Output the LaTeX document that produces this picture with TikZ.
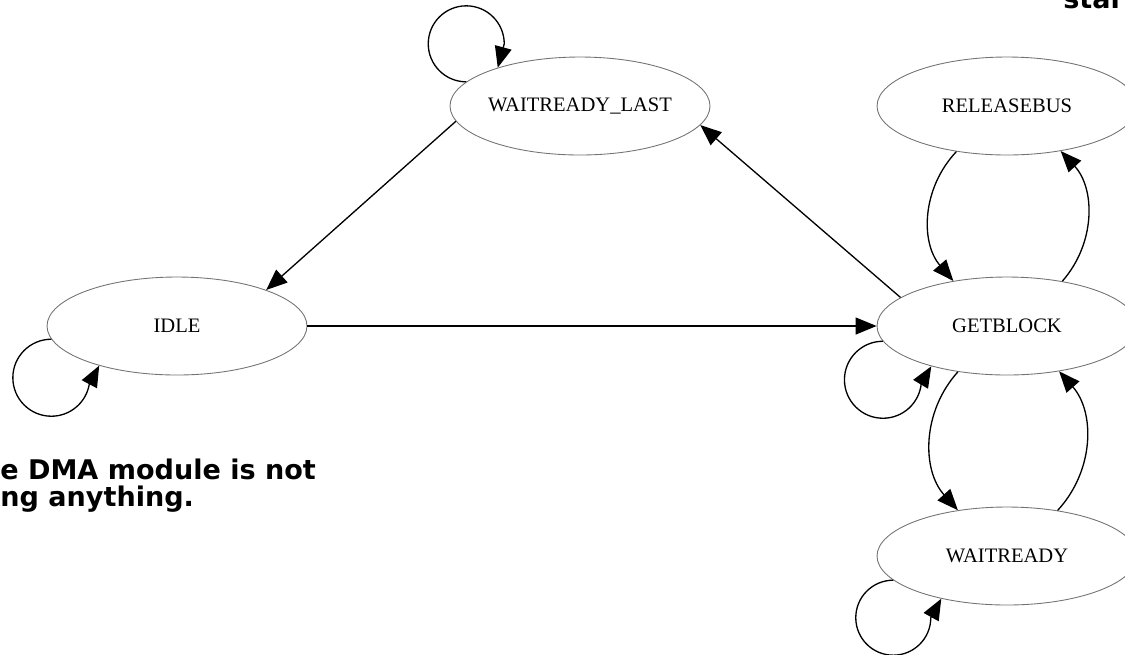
\documentclass[tikz,border=0pt]{standalone}
\usepackage{fontspec}
\usetikzlibrary{shapes.geometric,arrows.meta}
\newfontfamily\statefont{Liberation Serif}
\newfontfamily\notefont{DejaVu Sans}
\begin{document}
\begin{tikzpicture}[x=0.02cm,y=-0.02cm,
  state/.style={ellipse, draw=black!55, line width=0.5pt, inner sep=0pt,
    minimum width=5.2cm, minimum height=1.96cm,
    font=\statefont\fontsize{11.7}{14}\selectfont},
  arr/.style={-{Triangle[length=0.42cm,width=0.34cm]}, line width=0.75pt, black},
  note/.style={font=\notefont\bfseries\fontsize{15.4}{18}\selectfont, inner sep=0pt, anchor=base west}]
\useasboundingbox (0,0) rectangle (1125,654);

\node[state] (wl) at (580,106) {WAITREADY\_LAST};
\node[state] (idle) at (177,326) {IDLE};
\node[state] (rb) at (1007,106) {RELEASEBUS};
\node[state] (gb) at (1007,326) {GETBLOCK};
\node[state] (wr) at (1007,556) {WAITREADY};

% straight edges
\draw[arr] (wl.187) -- (idle.22);
\draw[arr] (idle.east) -- (gb.west);
\draw[arr] (gb.165) -- (wl.-9);

% curved pairs
\draw[arr] (rb.222) to[bend right=42] (gb.140);
\draw[arr] (gb.39) to[bend right=42] (rb.-40);
\draw[arr] (gb.223) to[bend right=42] (wr.137);
\draw[arr] (wr.42) to[bend right=42] (gb.-41);

% self loops
\draw[arr] (wl.168.5) arc[start angle=90, end angle=360, radius=38] -- (wl.155.4);
\draw[arr] (idle.186) arc[start angle=270, end angle=10, radius=38.5] -- (idle.207.5);
\draw[arr] (gb.187) arc[start angle=270, end angle=5, radius=38.5] -- (gb.208);
\draw[arr] (wr.192) arc[start angle=270, end angle=0, radius=37.5] -- (wr.213.5);

% notes
\node[note] (note1) at (0,479) {e DMA module is not};
\node[note] (note2) at (0,506) {ng anything.};
\node[note] (star) at (1063,8) {star};
\end{tikzpicture}
\end{document}
